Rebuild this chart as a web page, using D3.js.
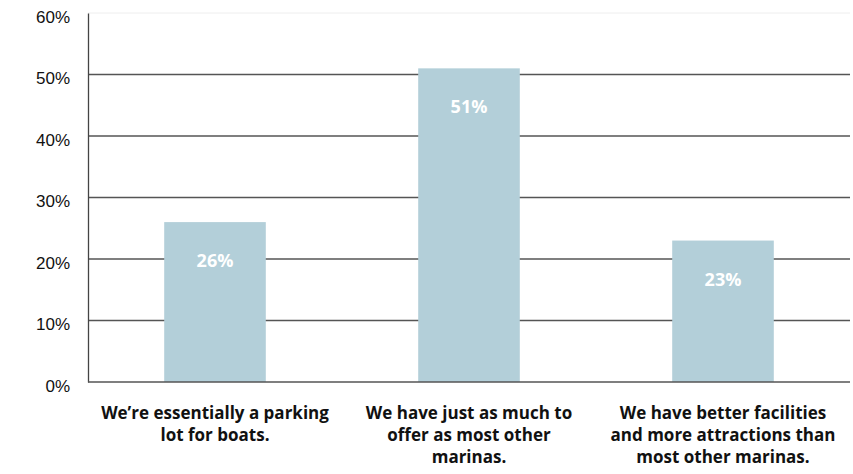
<!DOCTYPE html>
<html>
<head>
<meta charset="utf-8">
<script src="https://cdn.jsdelivr.net/npm/d3@7"></script>
<style>
  body { margin: 0; background: #fff; }
  svg { display: block; font-family: "Open Sans", "Lato", sans-serif; }
</style>
</head>
<body>
<div id="chart"></div>
<script>
// data
const categories = [
  "We\u2019re essentially a parking lot for boats.",
  "We have just as much to offer as most other marinas.",
  "We have better facilities and more attractions than most other marinas."
];
const labelLines = [
  ["We\u2019re essentially a parking", "lot for boats."],
  ["We have just as much to", "offer as most other", "marinas."],
  ["We have better facilities", "and more attractions than", "most other marinas."]
];
const values = [0.26, 0.51, 0.23];
const yTicks = [0, 0.1, 0.2, 0.3, 0.4, 0.5, 0.6];

const W = 853, H = 474;
const margin = {top: 13, right: 3, bottom: 92, left: 88};
const width = W - margin.left - margin.right,
      height = H - margin.top - margin.bottom;

const svg = d3.select("#chart").append("svg")
    .attr("width", W).attr("height", H);
const g = svg.append("g")
    .attr("transform", "translate(" + margin.left + "," + margin.top + ")");

const x = d3.scaleBand().domain(categories).range([0, width])
    .paddingInner(0.6).paddingOuter(0.3);
const y = d3.scaleLinear().domain([0, 0.6]).range([height, 0]);

// gridlines
g.append("g").selectAll("line")
  .data(yTicks.filter(d => d > 0))
  .enter().append("line")
    .attr("x1", 0).attr("x2", width)
    .attr("y1", d => y(d)).attr("y2", d => y(d))
    .attr("stroke", d => d === 0.6 ? "#eeeeee" : "#555")
    .attr("stroke-width", d => d === 0.6 ? 1 : 1.3);

// bars
g.selectAll(".bar").data(values).enter().append("rect")
    .attr("class", "bar")
    .attr("x", (d, i) => x(categories[i]))
    .attr("width", x.bandwidth())
    .attr("y", d => y(d))
    .attr("height", d => height - y(d))
    .attr("fill", "#b3cfd9");

// value labels
g.selectAll(".val").data(values).enter().append("text")
    .attr("class", "val")
    .attr("x", (d, i) => x(categories[i]) + x.bandwidth() / 2)
    .attr("y", d => y(d) + 45)
    .attr("text-anchor", "middle")
    .attr("fill", "#fff")
    .style("font-size", "18px")
    .style("font-weight", "bold")
    .text(d => Math.round(d * 100) + "%");

// y axis
const yAxis = g.append("g")
    .call(d3.axisLeft(y).tickValues(yTicks).tickFormat(d3.format(".0%")).tickSize(0).tickPadding(18));
yAxis.select(".domain").attr("stroke", "#444").attr("stroke-width", 1.3);
yAxis.selectAll("text").style("font-size", "17px").attr("fill", "#111").attr("dy", "0.55em");

// x axis line
g.append("line")
    .attr("x1", 0).attr("x2", width)
    .attr("y1", height).attr("y2", height)
    .attr("stroke", "#555").attr("stroke-width", 1.5);

// category labels
const cl = g.append("g").selectAll("text")
  .data(categories).enter().append("text")
    .attr("x", d => x(d) + x.bandwidth() / 2)
    .attr("y", height + 37)
    .attr("text-anchor", "middle")
    .attr("fill", "#111")
    .style("font-size", "17px")
    .style("font-weight", "bold");
cl.each(function(d, i) {
  d3.select(this).selectAll("tspan").data(labelLines[i]).enter().append("tspan")
    .attr("x", x(d) + x.bandwidth() / 2)
    .attr("dy", (t, j) => j === 0 ? 0 : 22)
    .text(t => t);
});
</script>
</body>
</html>
